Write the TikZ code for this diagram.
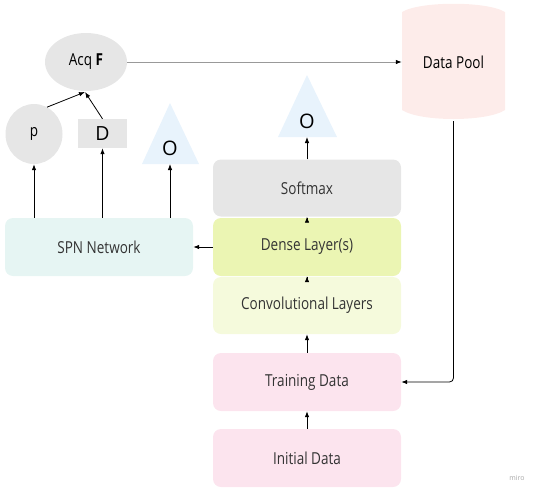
\documentclass[tikz,border=0pt]{standalone}
\usepackage{fontspec}
\setmainfont{Open Sans}
\newfontfamily\lblfont[FakeStretch=0.82]{Open Sans}
\usetikzlibrary{arrows.meta,shapes.geometric}
\definecolor{cgray}{HTML}{E6E6E6}
\definecolor{ctri}{HTML}{E8F3FC}
\definecolor{cpool}{HTML}{FDECEA}
\definecolor{cdense}{HTML}{EBF5B3}
\definecolor{cconv}{HTML}{F5FADC}
\definecolor{cspn}{HTML}{E6F5F3}
\definecolor{cpink}{HTML}{FCE4EE}
\definecolor{ctext}{HTML}{333333}
\begin{document}
\begin{tikzpicture}[x=1pt,y=-1pt,
  txt/.style={font=\lblfont\fontsize{16.5}{18}\selectfont},
  box/.style={txt, rounded corners=8pt, minimum width=188pt, minimum height=57pt, inner sep=0pt, text=ctext},
  arr/.style={-{Latex[length=6pt,width=4.5pt]}, line width=0.8pt},
  lbl/.style={inner sep=0pt, text=black}]
\useasboundingbox (0,0) rectangle (538,490);
% boxes
\node[box, fill=cgray] (soft) at (307,188) {Softmax};
\node[box, fill=cdense, minimum height=58pt] (dense) at (307,247) {Dense Layer(s)};
\node[box, fill=cconv] (conv) at (307,305.5) {Convolutional Layers};
\node[box, fill=cspn, minimum height=58pt] (spn) at (99,247) {SPN Network};
\node[box, fill=cpink, minimum height=58pt] (train) at (307,382) {Training Data};
\node[box, fill=cpink, minimum height=58pt] (init) at (307,458) {Initial Data};
% ellipse and circle
\node[txt, ellipse, fill=cgray, minimum width=82pt, minimum height=58pt, inner sep=0pt] (acq) at (86,62) {Acq \textbf{F}};
\node[txt, ellipse, fill=cgray, minimum width=57pt, minimum height=60pt, inner sep=0pt] (p) at (34,134) {p};
\node[rectangle, fill=cgray, minimum width=49pt, minimum height=29pt, inner sep=0pt, font=\fontsize{19.5}{20}\selectfont] (d) at (102.5,133.5) {D};
% triangles
\fill[ctri] (170,103) -- (199,164) -- (142,164) -- cycle;
\node[lbl, font=\fontsize{20}{20}\selectfont] (o1) at (170,148) {O};
\coordinate (o1b) at (170,164);
\fill[ctri] (307,75) -- (337,137) -- (278,137) -- cycle;
\node[lbl, font=\fontsize{20}{20}\selectfont] (o2) at (307,121) {O};
\coordinate (o2b) at (307,137);
% data pool cylinder
\fill[cpool] (402,12) .. controls (420,1) and (487,1) .. (505,12) -- (505,110) .. controls (487,122) and (420,122) .. (402,110) -- cycle;
\node[txt, minimum width=103pt, minimum height=118pt, inner sep=0pt, text=black] (pool) at (453.5,62) {Data Pool};
% connectors
\coordinate (acqin) at (85,92);
\draw[arr] (p.64) -- (acqin);
\draw[arr] (d.north) -- (acqin);
\draw[arr] (p.south |- spn.north) -- (p.south);
\draw[arr] (d.south |- spn.north) -- (d.south);
\draw[arr] (o1b |- spn.north) -- (o1b);
\draw[arr] (dense.west) -- (spn.east);
\draw[arr] (soft.north) -- (o2b);
\draw[arr] (dense.north) -- (soft.south);
\draw[arr] (conv.north) -- (dense.south);
\draw[arr] (train.north) -- (conv.south);
\draw[arr] (init.north) -- (train.south);
\draw[line width=0.8pt, draw=gray!80, -{Latex[length=6pt,width=4.5pt,fill=black,color=black]}] (acq.east) -- (pool.west);
\draw[arr, rounded corners=4pt] (pool.south) |- (train.east);
\node[text=gray!70, font=\fontsize{7}{8}\selectfont] (miro) at (517,478) {miro};
\end{tikzpicture}
\end{document}
